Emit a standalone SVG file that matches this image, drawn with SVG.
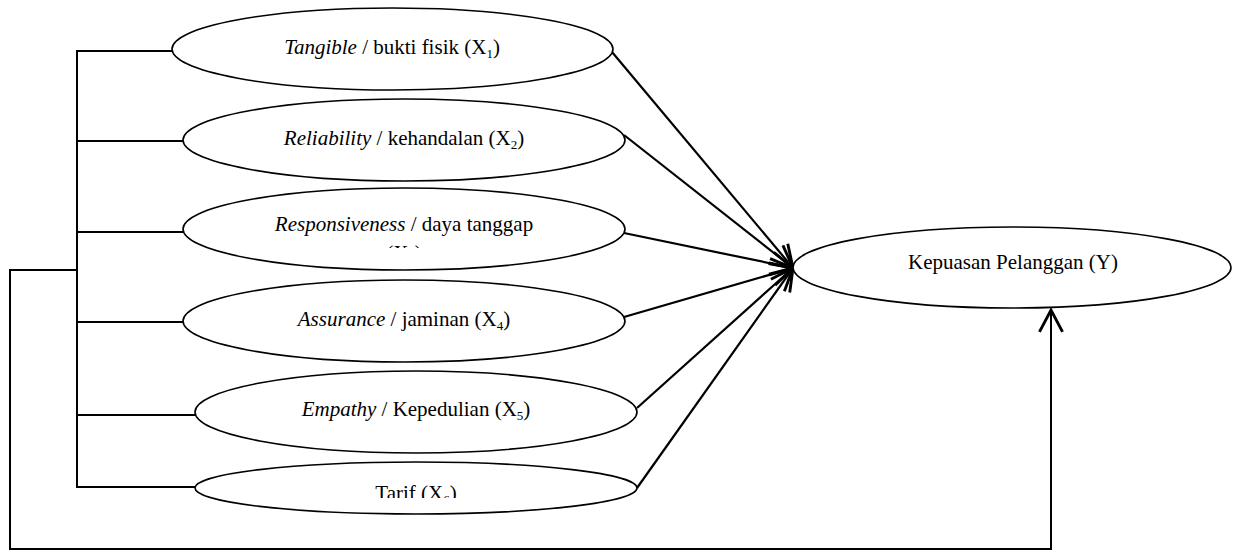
<svg xmlns="http://www.w3.org/2000/svg" width="1233" height="552" viewBox="0 0 1233 552">
<style>
.node ellipse{fill:#fff;stroke:#000;stroke-width:1.6}
.lbl{font-family:"Liberation Serif","Times New Roman",serif;font-size:21px;fill:#000;text-anchor:middle}
.it{font-style:italic}
.sub{font-size:13px}
.conn{fill:none;stroke:#000;stroke-width:2}
.arr{fill:none;stroke:#000;stroke-width:2.2;marker-end:url(#ah)}
</style>
<defs>
<marker id="ah" markerUnits="userSpaceOnUse" markerWidth="30" markerHeight="30" viewBox="-22 -12 26 24" refX="0" refY="0" orient="auto">
<path d="M-19,-10 L0,0 L-19,10" fill="none" stroke="#000" stroke-width="2.5"/>
</marker>
<clipPath id="c3"><rect x="180" y="185" width="450" height="63"/></clipPath>
<clipPath id="c6"><rect x="190" y="455" width="450" height="43"/></clipPath>
</defs>
<rect width="1233" height="552" fill="#fff"/>
<g id="connectors">
<path class="conn" d="M172,51 H77 V487 H196"/>
<path class="conn" d="M77,141 H183"/>
<path class="conn" d="M77,232 H183"/>
<path class="conn" d="M77,322 H183"/>
<path class="conn" d="M77,415 H196"/>
<path class="conn" d="M77,270 H10 V549 H1051 V310" marker-end="url(#ah)"/>
<path class="arr" d="M612,52 L793,268"/>
<path class="arr" d="M624,135 L793,268"/>
<path class="arr" d="M624,233 L793,268"/>
<path class="arr" d="M624,317 L793,268"/>
<path class="arr" d="M637,408 L793,268"/>
<path class="arr" d="M637,488 L793,268"/>
</g>
<g id="x1" class="node"><ellipse cx="392.5" cy="49" rx="220.5" ry="41"/>
<text class="lbl" x="392" y="54" font-family="Liberation Serif, serif"><tspan class="it">Tangible</tspan> / bukti fisik (X<tspan class="sub" dy="4">1</tspan><tspan dy="-4">)</tspan></text></g>
<g id="x2" class="node"><ellipse cx="404" cy="140" rx="221" ry="41"/>
<text class="lbl" x="404" y="145" font-family="Liberation Serif, serif"><tspan class="it">Reliability</tspan> / kehandalan (X<tspan class="sub" dy="4">2</tspan><tspan dy="-4">)</tspan></text></g>
<g id="x3" class="node"><ellipse cx="404" cy="229" rx="221" ry="41"/>
<g clip-path="url(#c3)"><text class="lbl" x="404" y="231" font-family="Liberation Serif, serif"><tspan class="it">Responsiveness</tspan> / daya tanggap</text>
<text class="lbl" x="404" y="260" font-family="Liberation Serif, serif">(X<tspan class="sub" dy="4">3</tspan><tspan dy="-4">)</tspan></text></g></g>
<g id="x4" class="node"><ellipse cx="404" cy="321" rx="221" ry="41"/>
<text class="lbl" x="404" y="326" font-family="Liberation Serif, serif"><tspan class="it">Assurance</tspan> / jaminan (X<tspan class="sub" dy="4">4</tspan><tspan dy="-4">)</tspan></text></g>
<g id="x5" class="node"><ellipse cx="416" cy="412" rx="221" ry="41"/>
<text class="lbl" x="416" y="416" font-family="Liberation Serif, serif"><tspan class="it">Empathy</tspan> / Kepedulian (X<tspan class="sub" dy="4">5</tspan><tspan dy="-4">)</tspan></text></g>
<g id="x6" class="node"><ellipse cx="416" cy="488" rx="221" ry="26"/>
<g clip-path="url(#c6)"><text class="lbl" x="416" y="500" font-family="Liberation Serif, serif">Tarif (X<tspan class="sub" dy="4">6</tspan><tspan dy="-4">)</tspan></text></g></g>
<g id="y" class="node"><ellipse cx="1012" cy="267.5" rx="219" ry="40.5"/>
<text class="lbl" x="1013" y="269" font-family="Liberation Serif, serif">Kepuasan Pelanggan (Y)</text></g>
</svg>
